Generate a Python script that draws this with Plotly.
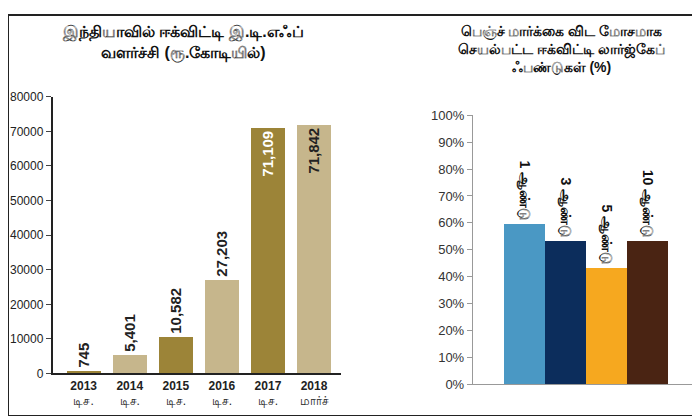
import plotly.graph_objects as go

left_title = "இந்தியாவில் ஈக்விட்டி இ.டி.எஃப்<br>வளர்ச்சி (ரூ.கோடியில்)"
left_cats = ["<b>2013</b><br>டிச.", "<b>2014</b><br>டிச.", "<b>2015</b><br>டிச.",
             "<b>2016</b><br>டிச.", "<b>2017</b><br>டிச.", "<b>2018</b><br>மார்ச்"]
left_vals = [745, 5401, 10582, 27203, 71109, 71842]
left_text = ["745", "5,401", "10,582", "27,203", "71,109", "71,842"]

right_title = "பெஞ்ச் மார்க்கை விட மோசமாக<br>செயல்பட்ட ஈக்விட்டி லார்ஜ்கேப்<br>ஃபண்டுகள் (%)"
right_cats = ["1 ஆண்டு", "3 ஆண்டு", "5 ஆண்டு", "10 ஆண்டு"]
right_vals = [59.5, 53, 43.2, 53.3]

olive, beige = "#9c8438", "#c6b68c"
font = "Liberation Sans, Noto Sans, sans-serif"

fig = go.Figure()
fig.add_trace(go.Bar(
    x=list(range(6)), y=left_vals, width=0.74,
    marker=dict(color=[olive, beige, olive, beige, olive, beige], line_width=0),
    text=["<b>" + t + "</b>" for t in left_text], textangle=-90,
    textposition=("outside", "outside", "outside", "outside", "inside", "inside"),
    insidetextanchor="end",
    textfont=dict(family=font, size=15, color=["#222"] * 4 + ["white", "#222"]),
    cliponaxis=False, xaxis="x", yaxis="y", showlegend=False,
))
fig.add_trace(go.Bar(
    x=list(range(4)), y=right_vals, width=1,
    marker=dict(color=["#4a98c4", "#0c2d5c", "#f6a81f", "#4a2413"], line_width=0),
    text=["<b>" + t + "</b>" for t in right_cats], textangle=90, textposition="outside",
    textfont=dict(family=font, size=14, color="#111"),
    cliponaxis=False, xaxis="x2", yaxis="y2", showlegend=False,
))

fig.update_layout(
    width=700, height=416, margin=dict(l=0, r=0, t=0, b=0),
    paper_bgcolor="white", plot_bgcolor="white", bargap=0,
    uniformtext=dict(minsize=13, mode="show"),
    font=dict(family=font, color="#111"),
    xaxis=dict(domain=[0.064, 0.476], range=[-0.67, 5.59], tickvals=list(range(6)),
               ticktext=left_cats, showline=True, linecolor="#222", linewidth=2,
               ticks="", tickfont=dict(size=12, color="#222"), showgrid=False),
    yaxis=dict(domain=[0.106, 0.796], range=[0, 80000], dtick=10000, tickformat="d",
               showline=True, linecolor="#222", linewidth=2, ticks="outside", ticklen=5,
               tickfont=dict(size=12, color="#222"), showgrid=False),
    xaxis2=dict(domain=[0.664, 0.986], range=[-1.26, 4.24], showticklabels=False,
                showline=True, linecolor="#999", ticks="", showgrid=False, anchor="y2"),
    yaxis2=dict(domain=[0.079, 0.75], range=[0, 100], dtick=10, ticksuffix="%",
                showline=True, linecolor="#999", ticks="outside", ticklen=5, tickcolor="#999",
                tickfont=dict(size=13, color="#333"), showgrid=False, anchor="x2"),
    annotations=[
        dict(text="<b>" + left_title + "</b>", x=0.25, y=0.985, xref="paper", yref="paper",
             xanchor="center", yanchor="top", showarrow=False, font=dict(size=16)),
        dict(text="<b>" + right_title + "</b>", x=0.79, y=0.985, xref="paper", yref="paper",
             xanchor="center", yanchor="top", showarrow=False, font=dict(size=14)),
    ],
    shapes=[dict(type="rect", xref="paper", yref="paper", x0=0, y0=0, x1=1, y1=1,
                 line=dict(color="#222", width=2))],
)

fig.write_html("out.html")
